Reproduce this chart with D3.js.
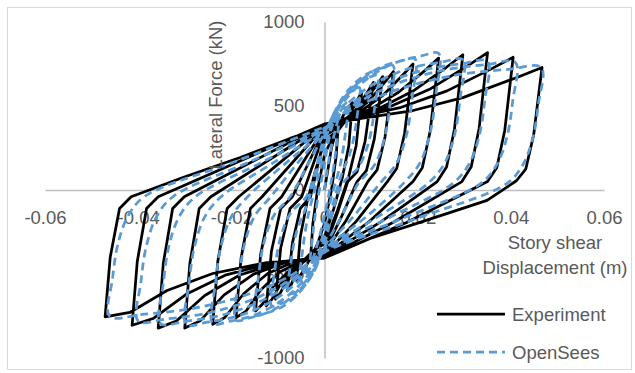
<!DOCTYPE html>
<html>
<head>
<meta charset="utf-8">
<script src="https://cdn.jsdelivr.net/npm/d3@7"></script>
<style>
  html, body { margin: 0; padding: 0; background: #fff; }
  text { font-family: "Liberation Sans", Arial, sans-serif; fill: #595959; }
</style>
</head>
<body>
<div id="chart"></div>
<script>
// tick values
const xTicks = [-0.06, -0.04, -0.02, 0, 0.02, 0.04, 0.06];
const yTicks = [-1000, -500, 0, 500, 1000];

// displacement (m), lateral force (kN)
const experiment = [
  [0, 0], [0.0015, 250],
  [0.003, 400], [0.0025, 200], [0.0015, 0], [0, -200], [-0.0015, -320], [-0.003, -410],
  [-0.0025, -200], [-0.0015, 0], [0, 210], [0.0025, 360], [0.0045, 470],
  [0.006, 520], [0.0052, 260], [0.0038, 70], [0.002, -110], [0, -280], [-0.0025, -380], [-0.0045, -480], [-0.006, -540],
  [-0.0052, -280], [-0.0038, -80], [-0.002, 110], [0, 290], [0.0032, 364], [0.0052, 438], [0.007, 532],
  [0.008, 585], [0.0068, 265], [0.0052, 80], [0.0028, -120], [0, -320], [-0.0021, -354], [-0.0042, -410], [-0.0059, -482], [-0.0072, -566], [-0.008, -600],
  [-0.0069, -318], [-0.0052, -110], [-0.003, -40], [0, 320], [0.0042, 400], [0.0068, 480], [0.0092, 582],
  [0.0105, 640], [0.0087, 288], [0.007, 109], [0.005, 50], [0.0025, -160], [0, -350], [-0.0027, -386], [-0.0055, -446], [-0.0078, -524], [-0.0095, -614], [-0.0105, -650],
  [-0.0094, -345], [-0.0074, -110], [-0.0049, -40], [0, 345], [0.005, 428], [0.0081, 510], [0.011, 616],
  [0.0125, 675], [0.0107, 304], [0.009, 115], [0.007, 50], [0.0035, -168], [0, -365], [-0.0033, -404], [-0.0065, -469], [-0.0093, -554], [-0.0113, -651], [-0.0125, -690],
  [-0.0114, -366], [-0.0094, -110], [-0.0069, -40], [0, 360], [0.0059, 446], [0.0096, 532], [0.013, 643],
  [0.0148, 705], [0.013, 317], [0.0113, 120], [0.0093, 50], [0.0046, -183], [0, -375], [-0.0038, -416], [-0.0077, -485], [-0.011, -575], [-0.0133, -679], [-0.0148, -720],
  [-0.0137, -382], [-0.0117, -110], [-0.0092, -40], [0, 370], [0.0076, 465], [0.0124, 560], [0.0167, 682],
  [0.019, 750], [0.0172, 338], [0.0155, 128], [0.0135, 50], [0.0068, -187], [0, -385], [-0.0049, -423], [-0.0097, -490], [-0.0137, -595], [-0.0169, -723], [-0.019, -760],
  [-0.0179, -403], [-0.0159, -110], [-0.0134, -40], [0, 378], [0.0098, 480], [0.0159, 582], [0.0216, 712],
  [0.0245, 785], [0.0227, 353], [0.021, 133], [0.019, 50], [0.0095, -190], [0, -390], [-0.0062, -423], [-0.0122, -497], [-0.0173, -616], [-0.0214, -759], [-0.024, -800],
  [-0.0229, -424], [-0.0209, -110], [-0.0184, -40], [0, 383], [0.0119, 488], [0.0193, 594], [0.0261, 729],
  [0.0297, 805], [0.0279, 362], [0.0262, 137], [0.0242, 50], [0.0121, -190], [0, -395], [-0.0078, -425], [-0.0153, -502], [-0.0216, -626], [-0.0267, -779], [-0.030, -822],
  [-0.0289, -436], [-0.0269, -110], [-0.0244, -40], [0, 387], [0.014, 495], [0.0228, 603], [0.0308, 740],
  [0.035, 818], [0.0332, 368], [0.0315, 139], [0.0295, 50], [0.0148, -192], [0, -400], [-0.0093, -430], [-0.0182, -506], [-0.0257, -628], [-0.0318, -780], [-0.0357, -822],
  [-0.0346, -436], [-0.0326, -110], [-0.0301, -40], [0, 390], [0.0162, 490], [0.0263, 590], [0.0356, 718],
  [0.0405, 790], [0.0387, 356], [0.037, 134], [0.035, 50], [0.0175, -195], [0, -405], [-0.0107, -431], [-0.0211, -505], [-0.0297, -621], [-0.0368, -765], [-0.0413, -805],
  [-0.0402, -427], [-0.0382, -110], [-0.0357, -40], [0, 393], [0.019, 473], [0.0297, 550], [0.0413, 670],
  [0.0467, 729], [0.0449, 328], [0.0432, 124], [0.0412, 55], [0.0349, -62], [0.0205, -193], [0.0098, -289], [0, -405],
  [-0.0124, -432], [-0.024, -497], [-0.0338, -598], [-0.0418, -729], [-0.0471, -755],
  [-0.046, -400], [-0.044, -110], [-0.0415, -40], [-0.0304, 74], [-0.0181, 193], [-0.0074, 307], [0, 378]
];

const openSees = [
  [0, 0], [0.0012, 220],
  [0.003, 420], [0.0025, 250], [0.0015, 60], [0, -150], [-0.0012, -290], [-0.0024, -400], [-0.003, -430],
  [-0.0025, -260], [-0.0015, -60], [0, 150], [0.00075, 280], [0.00175, 390], [0.003, 472], [0.00425, 509],
  [0.005, 520], [0.0045, 340], [0.0033, 140], [0.0015, -40], [0, -220], [-0.0008, -332], [-0.0018, -428], [-0.0031, -498], [-0.0044, -530], [-0.0052, -540],
  [-0.0047, -360], [-0.0035, -150], [-0.0017, 40], [0, 220], [0.0011, 357], [0.0026, 474], [0.0045, 559], [0.0064, 598],
  [0.0075, 610], [0.0069, 420], [0.0057, 240], [0.0035, 80], [0.0012, -150], [0, -280], [-0.0012, -399], [-0.0027, -501], [-0.0047, -576], [-0.0066, -610], [-0.0078, -620],
  [-0.0072, -430], [-0.006, -250], [-0.0038, -90], [-0.0012, 150], [0, 280], [0.0017, 421], [0.004, 541], [0.0068, 630], [0.0096, 670],
  [0.0113, 682], [0.0107, 477], [0.0095, 286], [0.0073, 136], [0.0038, 34], [0, -320], [-0.0017, -450], [-0.004, -561], [-0.0068, -642], [-0.0096, -679], [-0.0113, -690],
  [-0.0107, -483], [-0.0095, -290], [-0.0073, -138], [-0.0038, -35], [0, 320], [0.0022, 467], [0.0051, 594], [0.0088, 686], [0.0125, 728],
  [0.0147, 741], [0.0141, 519], [0.0129, 311], [0.0107, 148], [0.0072, 37], [0.0036, -160], [0, -340], [-0.0022, -482], [-0.0052, -603], [-0.0089, -692], [-0.0126, -733], [-0.0148, -745],
  [-0.0142, -522], [-0.013, -313], [-0.0108, -149], [-0.0073, -37], [-0.0036, 150], [0, 340], [0.0029, 495], [0.0068, 627], [0.0116, 725], [0.0165, 769],
  [0.0194, 782], [0.0188, 547], [0.0176, 328], [0.0154, 156], [0.0119, 39], [0.006, -165], [0, -350], [-0.0029, -499], [-0.0067, -626], [-0.0114, -720], [-0.0162, -762], [-0.019, -775],
  [-0.0184, -543], [-0.0172, -326], [-0.015, -155], [-0.0115, -39], [-0.0058, 160], [0, 350], [0.0037, 512], [0.0086, 650], [0.0147, 752], [0.0208, 798],
  [0.0245, 812], [0.0239, 568], [0.0227, 341], [0.0205, 162], [0.017, 41], [0.0085, -170], [0, -355], [-0.0036, -509], [-0.0084, -641], [-0.0144, -738], [-0.0204, -782], [-0.024, -795],
  [-0.0234, -557], [-0.0222, -334], [-0.02, -159], [-0.0165, -40], [-0.0083, 160], [0, 355], [0.0045, 502], [0.0104, 628], [0.0178, 720], [0.0252, 762],
  [0.0297, 775], [0.0291, 543], [0.0279, 326], [0.0257, 155], [0.0222, 39], [0.0111, -165], [0, -360], [-0.0045, -514], [-0.0104, -646], [-0.0178, -743], [-0.0252, -787], [-0.0297, -800],
  [-0.0291, -560], [-0.0279, -336], [-0.0257, -160], [-0.0222, -40], [-0.0111, 160], [0, 360], [0.0053, 502], [0.0123, 623], [0.021, 712], [0.0298, 753],
  [0.035, 765], [0.0344, 536], [0.0332, 321], [0.031, 153], [0.0275, 38], [0.0138, -165], [0, -360], [-0.0053, -512], [-0.0123, -643], [-0.0211, -738], [-0.0299, -782], [-0.0352, -795],
  [-0.0346, -557], [-0.0334, -334], [-0.0312, -159], [-0.0277, -40], [-0.0138, 160], [0, 365], [0.0062, 503], [0.0144, 621], [0.0246, 708], [0.0349, 747],
  [0.041, 759], [0.0404, 531], [0.0392, 319], [0.037, 152], [0.0335, 38], [0.0168, -168], [0, -365], [-0.006, -510], [-0.014, -635], [-0.024, -726], [-0.034, -768], [-0.04, -780],
  [-0.0394, -546], [-0.0382, -328], [-0.036, -156], [-0.0325, -39], [-0.0163, 165], [0, 370], [0.007, 496], [0.0163, 603], [0.0279, 682], [0.0395, 718],
  [0.0465, 729], [0.0459, 510], [0.0447, 306], [0.0425, 146], [0.039, 36], [0.0195, -172], [0, -370], [-0.0069, -504], [-0.0161, -618], [-0.0277, -702], [-0.0392, -741], [-0.0461, -752],
  [-0.0455, -526], [-0.0443, -316], [-0.0421, -150], [-0.0386, -38], [-0.0193, 168], [0, 375]
];

const seriesNames = ['Experiment', 'OpenSees'];

const width = 635, height = 373;
const fontSize = '18.5px';

const svg = d3.select('#chart').append('svg')
  .attr('width', width)
  .attr('height', height);

svg.append('rect')
  .attr('x', 0).attr('y', 0)
  .attr('width', width).attr('height', height)
  .attr('fill', '#fff');

// chart border
svg.append('rect')
  .attr('x', 7.5).attr('y', 7.5)
  .attr('width', 624).attr('height', 362)
  .attr('fill', 'none')
  .attr('stroke', '#d9d9d9')
  .attr('stroke-width', 1);

const x = d3.scaleLinear().domain([-0.06, 0.06]).range([45, 604]);
const y = d3.scaleLinear().domain([-1000, 1000]).range([358, 22]);

// plain hyphen for negatives, like the source chart
const fmtX = d => d === 0 ? '0' : d3.format('.2f')(d).replace('\u2212', '-');
const fmtY = d => d3.format('d')(d).replace('\u2212', '-');

// axes through the origin
const gx = svg.append('g').attr('transform', `translate(0,${y(0)})`)
  .call(d3.axisBottom(x).tickValues(xTicks).tickSize(0).tickPadding(20).tickFormat(fmtX));
gx.select('.domain').attr('stroke', '#bfbfbf').attr('stroke-width', 1.5);
gx.selectAll('text')
  .attr('fill', '#595959')
  .style('font-family', '"Liberation Sans", Arial, sans-serif')
  .style('font-size', fontSize)
  .attr('dy', '0.35em')
  .attr('y', 28);

const gy = svg.append('g').attr('transform', `translate(${x(0)},0)`)
  .call(d3.axisLeft(y).tickValues(yTicks).tickSize(0).tickPadding(20).tickFormat(fmtY));
gy.select('.domain').attr('stroke', '#bfbfbf').attr('stroke-width', 1.5);
gy.selectAll('text')
  .attr('fill', '#595959')
  .style('font-family', '"Liberation Sans", Arial, sans-serif')
  .style('font-size', fontSize);

// series
const line = d3.line().x(d => x(d[0])).y(d => y(d[1]));
const smooth = d3.line().x(d => x(d[0])).y(d => y(d[1])).curve(d3.curveCatmullRom.alpha(0.5));

svg.append('path')
  .datum(experiment)
  .attr('d', line)
  .attr('fill', 'none')
  .attr('stroke', '#000')
  .attr('stroke-width', 2.75)
  .attr('stroke-linejoin', 'round');

svg.append('path')
  .datum(openSees)
  .attr('d', smooth)
  .attr('fill', 'none')
  .attr('stroke', '#5b9bd5')
  .attr('stroke-width', 2.75)
  .attr('stroke-dasharray', '8,5');

// axis titles
svg.append('text')
  .attr('transform', 'translate(215,95) rotate(-90)')
  .attr('text-anchor', 'middle')
  .attr('dominant-baseline', 'central')
  .style('font-size', fontSize)
  .text('Lateral Force (kN)');

svg.append('text')
  .attr('x', 555).attr('y', 242)
  .attr('text-anchor', 'middle')
  .attr('dominant-baseline', 'central')
  .style('font-size', fontSize)
  .text('Story shear');

svg.append('text')
  .attr('x', 555).attr('y', 267)
  .attr('text-anchor', 'middle')
  .attr('dominant-baseline', 'central')
  .style('font-size', fontSize)
  .text('Displacement (m)');

// legend
const legend = svg.append('g');
seriesNames.forEach((name, i) => {
  const ly = 314 + i * 38;
  legend.append('line')
    .attr('x1', 437).attr('x2', 505)
    .attr('y1', ly).attr('y2', ly)
    .attr('stroke', i === 0 ? '#000' : '#5b9bd5')
    .attr('stroke-width', 2.75)
    .attr('stroke-dasharray', i === 0 ? null : '8,5');
  legend.append('text')
    .attr('x', 512).attr('y', ly)
    .attr('dominant-baseline', 'central')
    .style('font-size', fontSize)
    .text(name);
});
</script>
</body>
</html>
